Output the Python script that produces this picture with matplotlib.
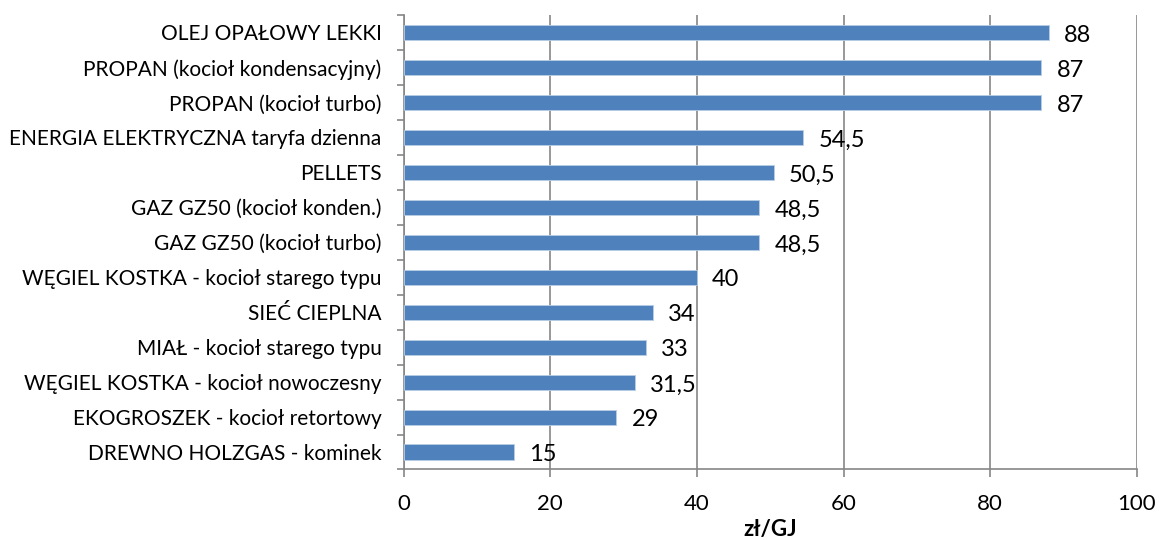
import matplotlib.pyplot as plt
import numpy as np

# data, top to bottom as in the chart
categories = [
    "OLEJ OPAŁOWY LEKKI",
    "PROPAN (kocioł kondensacyjny)",
    "PROPAN (kocioł turbo)",
    "ENERGIA ELEKTRYCZNA taryfa dzienna",
    "PELLETS",
    "GAZ GZ50 (kocioł konden.)",
    "GAZ GZ50 (kocioł turbo)",
    "WĘGIEL KOSTKA - kocioł starego typu",
    "SIEĆ CIEPLNA",
    "MIAŁ - kocioł starego typu",
    "WĘGIEL KOSTKA - kocioł nowoczesny",
    "EKOGROSZEK - kocioł retortowy",
    "DREWNO HOLZGAS - kominek",
]
values = [88, 87, 87, 54.5, 50.5, 48.5, 48.5, 40, 34, 33, 31.5, 29, 15]
value_labels = ["88", "87", "87", "54,5", "50,5", "48,5", "48,5", "40", "34", "33", "31,5", "29", "15"]
x_ticks = [0, 20, 40, 60, 80, 100]

plt.rcParams['font.family'] = ['Lato', 'DejaVu Sans']

fig = plt.figure(figsize=(11.6, 5.4), dpi=100)
ax = fig.add_axes([0.348, 0.1306, 0.632, 0.8416])

n = len(categories)
y = np.arange(n)[::-1]
ax.barh(y, values, height=0.43, color="#4F81BD", edgecolor="#B9CDE5", linewidth=0.6, zorder=3)

for yi, v, lab in zip(y, values, value_labels):
    ax.annotate(lab, (v, yi), xytext=(11, -2), textcoords="offset points",
                va="center", ha="left", fontsize=17, color="black", zorder=4)

ax.set_xlim(0, 100)
ax.set_ylim(-0.5, n - 0.5)
ax.set_xticks(x_ticks)
ax.set_xticklabels([str(t) for t in x_ticks], fontsize=16)
ax.tick_params(axis="x", length=6, width=1.2, color="#868686", pad=12)

ax.set_yticks(y)
ax.set_yticklabels(categories, fontsize=15)
ax.set_yticks(np.arange(n + 1) - 0.5, minor=True)
ax.tick_params(axis="y", which="major", length=0, pad=16)
ax.tick_params(axis="y", which="minor", length=5, width=1.2, color="#868686")

ax.grid(axis="x", color="#868686", linewidth=1.2, zorder=0)
for s in ["top", "right"]:
    ax.spines[s].set_visible(False)
for s in ["left", "bottom"]:
    ax.spines[s].set_color("#868686")
    ax.spines[s].set_linewidth(1.2)

ax.set_xlabel("zł/GJ", fontsize=16, fontweight="bold", labelpad=3)

fig.savefig("out.png", dpi=100)
